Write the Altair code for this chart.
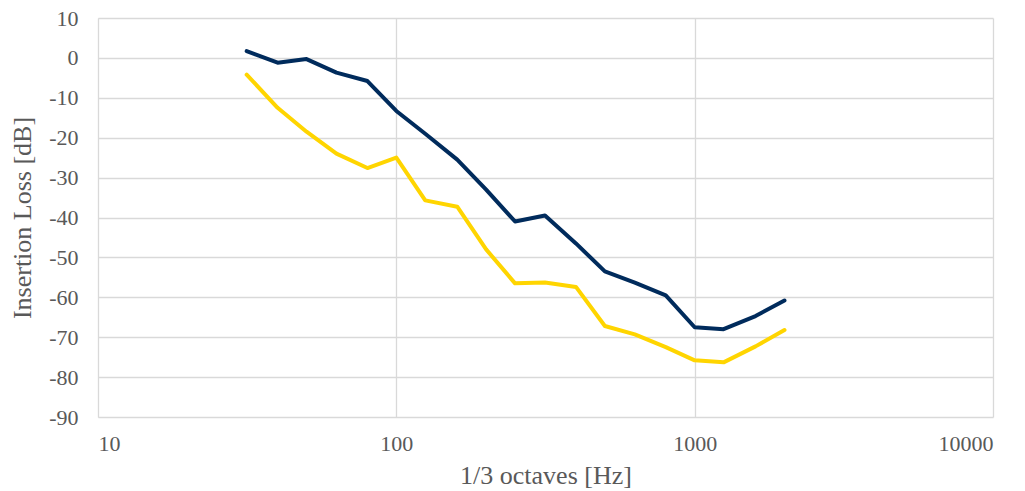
import altair as alt
import pandas as pd

freqs = [31.5, 40, 50, 63, 80, 100, 125, 160, 200, 250, 315, 400, 500, 630, 800, 1000, 1250, 1600, 2000]
series_a = [1.7, -1.2, -0.3, -3.7, -5.8, -13.3, -19.0, -25.5, -33.0, -41.0, -39.5, -46.5, -53.5, -56.3, -59.5, -67.5, -68.0, -64.7, -60.8]
series_b = [-4.2, -12.5, -18.5, -24.0, -27.6, -25.0, -35.7, -37.3, -48.0, -56.5, -56.3, -57.4, -67.2, -69.3, -72.5, -75.8, -76.3, -72.3, -68.2]
series_names = ["A", "B"]
x_ticks = [10, 100, 1000, 10000]
y_ticks = list(range(-90, 11, 10))

rows = []
for name, vals in zip(series_names, [series_a, series_b]):
    for f, v in zip(freqs, vals):
        rows.append({"f": f, "v": v, "s": name})
df = pd.DataFrame(rows)

font = "Liberation Serif"
chart = alt.Chart(df).mark_line(strokeWidth=4, strokeJoin="round", strokeCap="round").encode(
    x=alt.X("f:Q", scale=alt.Scale(type="log", domain=[10, 10000], nice=False),
            axis=alt.Axis(values=x_ticks, labelExpr="datum.value + ''", title="1/3 octaves [Hz]", grid=True,
                          ticks=False, domain=False, labelPadding=16, titlePadding=8)),
    y=alt.Y("v:Q", scale=alt.Scale(domain=[-90, 10], nice=False),
            axis=alt.Axis(values=y_ticks, labelExpr="datum.value + ''", title="Insertion Loss [dB]", grid=True,
                          ticks=False, domain=True, domainColor="#d9d9d9", labelPadding=20, titlePadding=13)),
    color=alt.Color("s:N", scale=alt.Scale(domain=series_names, range=["#002b5c", "#ffd500"]), legend=None),
).properties(
    width=895, height=399,
    autosize=alt.AutoSizeParams(type="none"),
    padding={"left": 90, "top": 10, "right": 20, "bottom": 76},
).configure_axis(
    gridColor="#d9d9d9", gridWidth=1.3,
    labelFont=font, titleFont=font, labelFontSize=22, titleFontSize=26,
    labelColor="#595959", titleColor="#595959", titleFontWeight="normal",
).configure_view(stroke=None)

chart.save("out.html", embed_options={"renderer": "svg", "actions": False})
